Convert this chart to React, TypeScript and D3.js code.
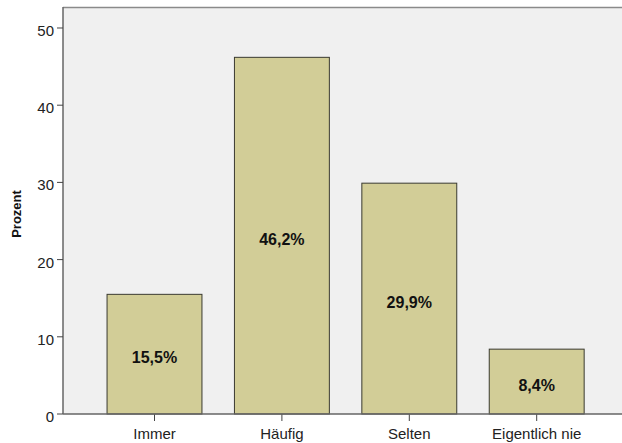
import React from "react";
import * as d3 from "d3";

const categories = ["Immer", "Häufig", "Selten", "Eigentlich nie"];
const percents = [15.5, 46.2, 29.9, 8.4];
const percentLabels = ["15,5%", "46,2%", "29,9%", "8,4%"];
const yTicks = [0, 10, 20, 30, 40, 50];

const W = 622;
const H = 443;
const plotLeft = 63;
const plotTop = 7;
const plotBottom = 414;
const plotRight = 622;

export default function App() {
  const y = d3.scaleLinear().domain([0, 52.72]).range([plotBottom, plotTop]);
  const x = d3
    .scaleBand<string>()
    .domain(categories)
    .range([90.8, 600.4])
    .paddingInner(0.255)
    .paddingOuter(0.1275);
  const font = "'Liberation Sans', Arial, sans-serif";
  return (
    <svg
      width={W}
      height={H}
      style={{ position: "absolute", left: 0, top: 0, display: "block" }}
      fontFamily={font}
    >
      <rect x={0} y={0} width={W} height={H} fill="#ffffff" />
      <rect
        x={plotLeft}
        y={plotTop}
        width={plotRight - plotLeft}
        height={plotBottom - plotTop}
        fill="#f0f0f0"
      />
      <line x1={plotLeft} x2={plotRight} y1={plotTop + 0.5} y2={plotTop + 0.5} stroke="#8a8a8a" strokeWidth={1.5} />
      {categories.map((c, i) => {
        const bx = x(c)!;
        const bw = x.bandwidth();
        const top = y(percents[i]);
        const mid = (top + plotBottom) / 2;
        return (
          <g key={c}>
            <rect
              x={bx}
              y={top}
              width={bw}
              height={plotBottom - top}
              fill="#d2cd97"
              stroke="#3a3a30"
              strokeWidth={1}
            />
            <text
              x={bx + bw / 2}
              y={mid + 3.5}
              textAnchor="middle"
              dominantBaseline="central"
              fontSize={16}
              fontWeight="bold"
              fill="#111"
            >
              {percentLabels[i]}
            </text>
            <line
              x1={bx + bw / 2}
              x2={bx + bw / 2}
              y1={plotBottom}
              y2={plotBottom + 7}
              stroke="#444"
              strokeWidth={1}
            />
            <text
              x={bx + bw / 2}
              y={plotBottom + 19}
              textAnchor="middle"
              dominantBaseline="central"
              fontSize={15}
              fill="#222"
            >
              {c}
            </text>
          </g>
        );
      })}
      <line x1={plotLeft} x2={plotRight} y1={plotBottom} y2={plotBottom} stroke="#666" strokeWidth={1.5} />
      <line x1={plotLeft} x2={plotLeft} y1={plotTop} y2={plotBottom} stroke="#666" strokeWidth={1.5} />
      {yTicks.map((t) => (
        <g key={t}>
          <line x1={plotLeft - 6} x2={plotLeft} y1={y(t)} y2={y(t)} stroke="#444" strokeWidth={1} />
          <text
            x={plotLeft - 9}
            y={y(t) + 2.5}
            textAnchor="end"
            dominantBaseline="central"
            fontSize={15}
            fill="#222"
          >
            {t}
          </text>
        </g>
      ))}
      <text
        transform={`translate(21, 214) rotate(-90)`}
        textAnchor="middle"
        fontSize={13}
        fontWeight="bold"
        fill="#111"
      >
        Prozent
      </text>
    </svg>
  );
}
